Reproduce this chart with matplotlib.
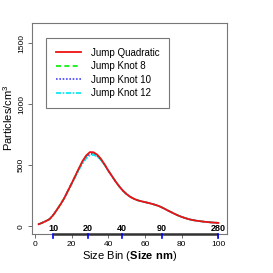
import matplotlib
matplotlib.use('Agg')
import matplotlib.pyplot as plt

plt.rcParams['font.family'] = ['Liberation Sans', 'DejaVu Sans']
plt.rcParams['mathtext.fontset'] = 'custom'
plt.rcParams['mathtext.rm'] = 'Liberation Sans'
plt.rcParams['mathtext.bf'] = 'Liberation Sans:bold'

# size bins and particle counts
bins = [2, 4, 6, 8, 10, 12, 14, 16, 18, 20, 22, 24, 26, 28, 30, 32, 34, 36, 38, 40,
        42, 44, 46, 48, 50, 52, 54, 56, 58, 60, 62, 64, 66, 68, 70, 72, 74, 76, 78, 80,
        82, 84, 86, 88, 90, 92, 94, 96, 98, 100]
jump_quadratic = [16, 28, 42, 58, 92, 135, 180, 230, 290, 350, 412, 475, 535, 580, 607, 605, 585, 550, 505, 455,
                  410, 365, 325, 290, 262, 240, 224, 212, 204, 197, 190, 182, 173, 162, 148, 132, 117, 102, 88, 76,
                  66, 57, 50, 45, 41, 37, 34, 31, 29, 27]
jump_knot8 = [16, 28, 42, 58, 92, 135, 180, 230, 290, 350, 410, 472, 530, 574, 601, 600, 582, 548, 504, 455,
              410, 365, 325, 290, 262, 240, 224, 212, 204, 197, 190, 182, 173, 162, 148, 132, 117, 102, 88, 76,
              66, 57, 50, 45, 41, 37, 34, 31, 29, 27]
jump_knot10 = [16, 28, 42, 58, 92, 135, 180, 230, 290, 348, 408, 468, 522, 565, 590, 592, 576, 544, 502, 454,
               410, 365, 325, 290, 262, 240, 224, 212, 204, 197, 190, 182, 173, 162, 148, 132, 117, 102, 88, 76,
               66, 57, 50, 45, 41, 37, 34, 31, 29, 27]
jump_knot12 = [16, 28, 42, 58, 92, 135, 180, 230, 288, 346, 405, 463, 515, 556, 580, 584, 570, 540, 500, 453,
               410, 365, 325, 290, 262, 240, 224, 212, 204, 197, 190, 182, 173, 162, 148, 132, 117, 102, 88, 76,
               66, 57, 50, 45, 41, 37, 34, 31, 29, 27]

size_tick_pos = [10, 28.7, 47.4, 69.4, 100]
size_tick_labels = ['10', '20', '40', '90', '280']
x_ticks = [0, 20, 40, 60, 80, 100]
y_ticks = [0, 500, 1000, 1500]

fig = plt.figure(figsize=(2.73, 2.73), dpi=100)
ax = fig.add_axes([32 / 273, 1 - 234 / 273, 195 / 273, 211 / 273])

ax.plot(bins, jump_knot8, color='#00ee00', linestyle=(0, (3, 2)), lw=1.2, label='Jump Knot 8')
ax.plot(bins, jump_knot10, color='#4444ff', linestyle=(0, (1, 1)), lw=1.2, label='Jump Knot 10')
ax.plot(bins, jump_knot12, color='#00e5ee', linestyle=(0, (3, 1, 1, 1)), lw=1.2, label='Jump Knot 12')
ax.plot(bins, jump_quadratic, color='#ee1111', lw=1.3, label='Jump Quadratic')

ax.set_xlim(-1.6, 104.7)
ax.set_ylim(-64, 1664)

for s in ax.spines.values():
    s.set_color('#777777')
    s.set_linewidth(0.8)

ax.set_xticks(x_ticks)
ax.set_yticks(y_ticks)
ax.tick_params(axis='both', direction='out', length=3, width=0.6, color='#555555',
               labelsize=6, pad=2)
for lab in ax.get_yticklabels():
    lab.set_rotation(90)
    lab.set_va('center')

ax.set_xlabel('Size Bin ($\\mathbf{Size\\ nm}$)', fontsize=8, labelpad=1)
ax.set_ylabel('Particles/cm$^3$', fontsize=8)
ax.yaxis.set_label_coords(-0.085, 0.55)

# secondary size axis along the bottom edge
ax.plot([size_tick_pos[0], size_tick_pos[-1]], [-64, -64], color='#333333', lw=1.8,
        clip_on=False, solid_capstyle='butt', zorder=5)
for pos, lab in zip(size_tick_pos, size_tick_labels):
    ax.plot([pos, pos], [-64, -64 - 36], color='#0000ff', lw=1.2, clip_on=False, zorder=6)
    ax.text(pos, -52, lab, ha='center', va='bottom', fontsize=6.5, fontweight='bold')

handles, labels = ax.get_legend_handles_labels()
order = [3, 0, 1, 2]
leg = ax.legend([handles[i] for i in order], [labels[i] for i in order],
                loc='upper left', bbox_to_anchor=(0.072, 0.929), borderaxespad=0,
                fontsize=7, fancybox=False, framealpha=1, edgecolor='#777777',
                handlelength=2.6, handletextpad=1.0, labelspacing=0.35, borderpad=1.0)
leg.get_frame().set_linewidth(0.8)

fig.savefig('out.png', dpi=100)
